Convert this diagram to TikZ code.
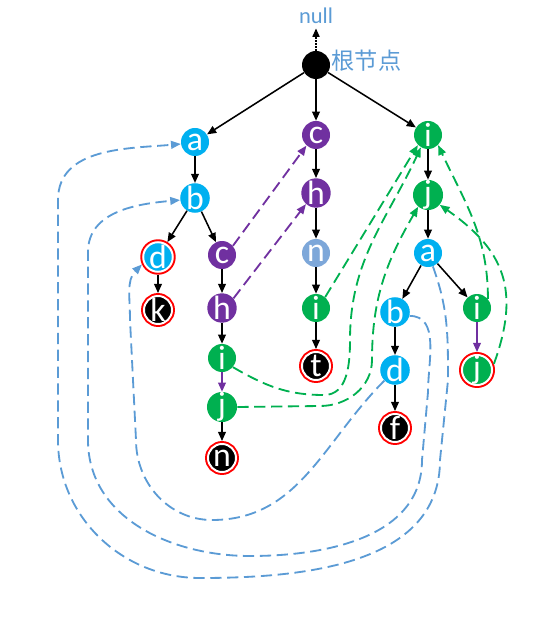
\documentclass[tikz,border=0pt]{standalone}
\usepackage{fontspec}
\setmainfont{Carlito}
\newfontfamily\cjk{Noto Sans CJK SC}
\usepackage{xcolor}
\usetikzlibrary{arrows.meta, positioning}
\definecolor{trieblue}{HTML}{00B0F0}
\definecolor{triepurple}{HTML}{7030A0}
\definecolor{triegreen}{HTML}{00B050}
\definecolor{triegrey}{HTML}{7DA7D9}
\definecolor{failblue}{HTML}{5B9BD5}
\tikzset{
  letter/.style={circle, minimum size=0.7cm, inner sep=0pt, text=white,
    font=\fontsize{24}{24}\selectfont},
  endmark/.style={preaction={draw=red, line width=4.2pt}, draw=white,
    line width=1.4pt, outer sep=2.1pt},
  edge/.style={line width=1.1pt, -{Triangle[length=6.5pt,width=5.5pt]}},
  fail/.style={line width=1.3pt, dash pattern=on 8pt off 4pt,
    -{Triangle[length=7pt,width=5.5pt]}},
}

\begin{document}
\begin{tikzpicture}
  \useasboundingbox (0,0) rectangle (13.3,-15.425);

  \node [letter, fill=black] (root) at (7.9,-1.625) {};
  \node [text=failblue, inner sep=3pt, font=\fontsize{16}{16}\selectfont] (null) at (7.9,-0.4) {null};
  \node [right=0.03cm of root, yshift=0.1cm, inner sep=0pt, text=failblue,
    font={\cjk\fontsize{16.5}{17}\selectfont}] (rootname) {根节点};

  \node [letter, fill=trieblue] (a1) at (4.875,-3.55) {a};
  \node [letter, fill=trieblue] (b1) at (4.875,-4.95) {b};
  \node [letter, fill=trieblue, endmark] (d1) at (3.95,-6.425) {d};
  \node [letter, fill=black, endmark] (k1) at (3.95,-7.75) {k};
  \node [letter, fill=triepurple] (c1) at (5.55,-6.375) {c};
  \node [letter, fill=triepurple] (h1) at (5.55,-7.7) {h};
  \node [letter, fill=triegreen] (i1) at (5.55,-8.95) {i};
  \node [letter, fill=triegreen] (j1) at (5.55,-10.175) {j};
  \node [letter, fill=black, endmark] (n1) at (5.55,-11.45) {n};

  \node [letter, fill=triepurple] (c2) at (7.9,-3.375) {c};
  \node [letter, fill=triepurple] (h2) at (7.9,-4.825) {h};
  \node [letter, fill=triegrey] (n2) at (7.9,-6.325) {n};
  \node [letter, fill=triegreen] (i2) at (7.9,-7.7) {i};
  \node [letter, fill=black, endmark] (t2) at (7.9,-9.15) {t};

  \node [letter, fill=triegreen] (i3) at (10.7,-3.375) {i};
  \node [letter, fill=triegreen] (j3) at (10.7,-4.875) {j};
  \node [letter, fill=trieblue] (a3) at (10.7,-6.325) {a};
  \node [letter, fill=trieblue] (b3) at (9.875,-7.8) {b};
  \node [letter, fill=trieblue] (d3) at (9.875,-9.25) {d};
  \node [letter, fill=black, endmark] (f3) at (9.875,-10.7) {f};
  \node [letter, fill=triegreen] (i4) at (11.925,-7.7) {i};
  \node [letter, fill=triegreen, endmark] (j4) at (11.925,-9.25) {j};

  \draw [densely dotted, line width=1.1pt, -{Triangle[length=6pt,width=5pt]}] (root) -- (null);
  \draw [edge] (root) -- (a1);
  \draw [edge] (root) -- (c2);
  \draw [edge] (root) -- (i3);
  \draw [edge] (a1) -- (b1);
  \draw [edge] (b1) -- (d1);
  \draw [edge] (b1) -- (c1);
  \draw [edge] (d1) -- (k1);
  \draw [edge] (c1) -- (h1);
  \draw [edge] (h1) -- (i1);
  \draw [edge, triepurple] (i1) -- (j1);
  \draw [edge] (j1) -- (n1);
  \draw [edge] (c2) -- (h2);
  \draw [edge] (h2) -- (n2);
  \draw [edge] (n2) -- (i2);
  \draw [edge] (i2) -- (t2);
  \draw [edge] (i3) -- (j3);
  \draw [edge] (j3) -- (a3);
  \draw [edge] (a3) -- (b3);
  \draw [edge] (a3) -- (i4);
  \draw [edge] (b3) -- (d3);
  \draw [edge] (d3) -- (f3);
  \draw [edge, triepurple] (i4) -- (j4);

  % fail links
  \draw [fail, triepurple] (c1.40) -- (c2.228);
  \draw [fail, triepurple] (h1.40) -- (h2.228);

  \draw [fail, triegreen] (i2.50) -- (i3.225);
  \draw [fail, triegreen] (i1.-40) to[out=-30,in=180] (8.1,-9.875)
    to[out=0,in=-90] (8.75,-8.5) to[out=90,in=245] (i3.240);
  \draw [fail, triegreen] (j1.east) -- (8.0,-10.15) to[out=0,in=-90] (9.3,-9.0)
    to[out=90,in=240] (j3.230);
  \draw [fail, triegreen] (i4.40) to[out=90,in=-65] (i3.-45);
  \draw [fail, triegreen, looseness=1.2] (j4.20) to[out=70,in=-35] (j3.-40);

  \draw [fail, failblue] (d3.225) to[out=225,in=0] (5.3,-13.0)
    to[out=180,in=-90] (3.4,-11.0) -- (3.25,-8.0) to[out=90,in=225] (d1.205);
  \draw [fail, failblue] (b3.-15) to[out=0,in=90] (10.7,-9.8) -- (10.55,-11.5)
    to[out=-90,in=0] (6.25,-13.9) to[out=180,in=-90] (2.2,-11.0) -- (2.2,-6.3)
    to[out=90,in=185] (b1.188);
  \draw [fail, failblue] (a3.-70) to[out=-70,in=90] (11.2,-9.5) -- (11.0,-11.5)
    to[out=-90,in=0] (5.0,-14.45) to[out=180,in=-90] (1.45,-11.0) -- (1.45,-5.0)
    to[out=90,in=185] (a1.188);
\end{tikzpicture}
\end{document}
